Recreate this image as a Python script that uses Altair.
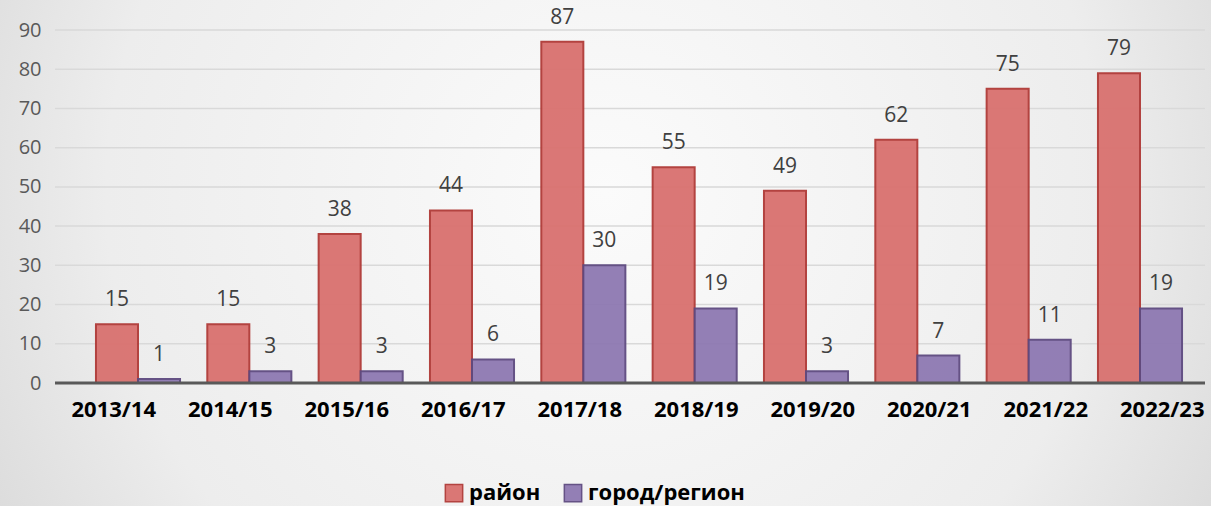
import altair as alt
import pandas as pd

seasons = ["2013/14", "2014/15", "2015/16", "2016/17", "2017/18",
           "2018/19", "2019/20", "2020/21", "2021/22", "2022/23"]
rayon = [15, 15, 38, 44, 87, 55, 49, 62, 75, 79]
gorod = [1, 3, 3, 6, 30, 19, 3, 7, 11, 19]
series = ["район", "город/регион"]
y_ticks = [0, 10, 20, 30, 40, 50, 60, 70, 80, 90]

rows = []
for i, s in enumerate(seasons):
    rows.append({"season": s, "series": series[0], "value": rayon[i]})
    rows.append({"season": s, "series": series[1], "value": gorod[i]})
df = pd.DataFrame(rows)
axis_df = pd.DataFrame({"season": seasons})
grid_df = pd.DataFrame({"value": y_ticks})

FONT = "Open Sans"
yscale = alt.Scale(domain=[0, 90], nice=False)

# background gradient
bg = alt.Chart(pd.DataFrame({"a": [0]})).mark_rect(
    color={"gradient": "radial", "x1": 0.5, "y1": 0.45, "r1": 0.0,
           "x2": 0.5, "y2": 0.45, "r2": 0.75,
           "stops": [{"offset": 0, "color": "#fbfbfb"},
                     {"offset": 0.55, "color": "#ededed"},
                     {"offset": 1, "color": "#c8c8c8"}]}
).encode(x=alt.value(-55), x2=alt.value(1156), y=alt.value(-30), y2=alt.value(476))

yaxis = alt.Axis(values=y_ticks, title=None, labelFontSize=20,
                 labelColor="#595959", grid=False, domain=False, ticks=False,
                 labelPadding=14, labelFont=FONT, zindex=2)

grid = alt.Chart(grid_df).mark_rule(color="#d9d9d9", strokeWidth=1.5).encode(
    y=alt.Y("value:Q", scale=yscale, axis=yaxis),
    x=alt.value(0), x2=alt.value(1150)
)

# bars (own x scale, slightly compressed as in the perspective view)
xb = alt.X("season:N", sort=seasons,
           scale=alt.Scale(range=[0, 1168], paddingInner=0.245, paddingOuter=0.368),
           axis=None)
xo = alt.XOffset("series:N", sort=series)
color = alt.Color("series:N", sort=series,
                  scale=alt.Scale(domain=series, range=["#d9716f", "#8e79b2"]),
                  legend=alt.Legend(title=None, orient="none", direction="horizontal",
                                    legendX=388, legendY=452,
                                    symbolType="square", symbolSize=300,
                                    symbolStrokeWidth=1.5,
                                    labelFontSize=22, labelFontWeight="bold",
                                    labelColor="#000000", labelFont=FONT,
                                    columnPadding=20, zindex=2))
stroke = alt.Stroke("series:N", sort=series,
                    scale=alt.Scale(domain=series, range=["#b03a37", "#5e4a80"]),
                    legend=None)

base = alt.Chart(df)
bars = base.mark_bar(strokeWidth=2, opacity=0.95).encode(
    x=xb, y=alt.Y("value:Q", scale=yscale, axis=yaxis),
    xOffset=xo, color=color, stroke=stroke
)
labels = base.mark_text(dy=-24, fontSize=21, color="#404040", font=FONT).encode(
    x=xb, y=alt.Y("value:Q", scale=yscale, axis=yaxis), xOffset=xo, text="value:Q"
)
bar_layer = alt.layer(bars, labels)

# category axis (label positions)
xa = alt.X("season:N", sort=seasons,
           scale=alt.Scale(range=[0, 1165], paddingInner=0.28, paddingOuter=0.137),
           axis=alt.Axis(title=None, labelAngle=0, labelFontSize=22,
                         labelFontWeight="bold", labelColor="#000000",
                         labelPadding=16, domain=False, ticks=False,
                         labelFont=FONT, zindex=2))
axis_layer = alt.Chart(axis_df).mark_point(opacity=0).encode(
    x=xa, y=alt.value(353)
)

floor = alt.Chart(pd.DataFrame({"value": [0]})).mark_rule(
    color="#595959", strokeWidth=3
).encode(y=alt.Y("value:Q", scale=yscale, axis=yaxis), x=alt.value(0), x2=alt.value(1150))

chart = alt.layer(bg, grid, bar_layer, axis_layer, floor).resolve_scale(
    x="independent"
).properties(
    width=1150, height=353,
    autosize=alt.AutoSizeParams(type="none"),
    padding={"left": 55, "top": 30, "right": 6, "bottom": 123},
    background="#e6e6e6",
).configure_view(stroke=None)

chart.save("out.html", embed_options={"renderer": "svg", "actions": False})
